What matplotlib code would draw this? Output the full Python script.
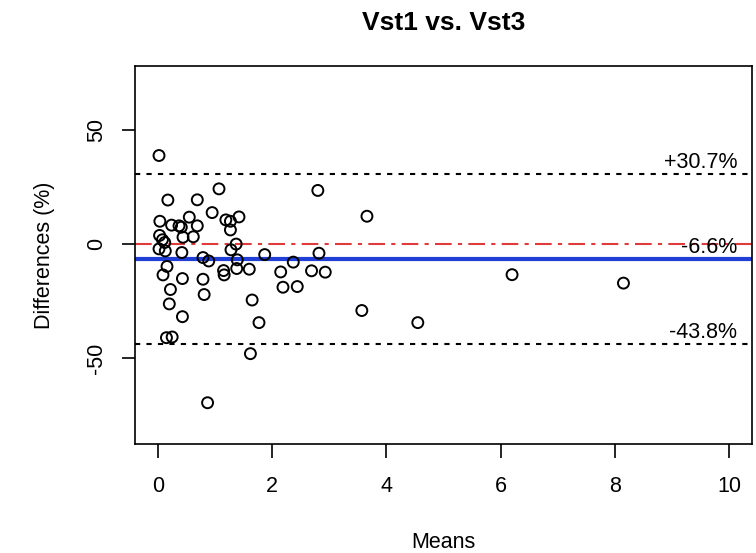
import matplotlib
matplotlib.use("Agg")
import matplotlib.pyplot as plt

plt.rcParams['font.family'] = ['Liberation Sans', 'DejaVu Sans']

# means (x) and percent differences (y)
means = [0.02, 1.07, 2.80, 0.175, 0.69, 0.95, 3.66, 0.035, 0.24, 0.37,
         0.41, 0.55, 0.69, 1.19, 1.27, 1.42, 1.27, 0.03, 0.44, 0.62,
         0.08, 0.12, 1.37, 0.02, 0.13, 1.28, 0.42, 1.87, 2.82, 0.79,
         0.89, 1.39, 2.37, 0.16, 1.38, 1.60, 1.15, 1.16, 2.15, 2.69,
         2.93, 0.09, 0.43, 0.79, 6.20, 8.15, 0.22, 2.19, 2.44, 0.81,
         0.20, 1.65, 0.43, 1.77, 0.15, 0.25, 1.62, 0.87, 3.57, 4.55]
diffs = [38.7, 24.1, 23.4, 19.2, 19.3, 13.7, 12.1, 9.9, 8.2, 7.9,
         7.3, 11.7, 7.9, 10.5, 9.9, 11.8, 6.1, 3.7, 2.9, 3.1,
         1.8, 0.6, -0.1, -2.2, -3.1, -2.6, -3.8, -4.7, -4.1, -6.0,
         -7.5, -7.0, -8.0, -9.9, -10.8, -11.1, -11.7, -13.6, -12.3, -11.8,
         -12.4, -13.6, -15.2, -15.5, -13.5, -17.2, -20.0, -19.0, -18.7, -22.2,
         -26.3, -24.6, -31.9, -34.5, -41.1, -40.8, -48.1, -69.6, -29.2, -34.5]

mean_diff = -6.6
upper_loa = 30.7
lower_loa = -43.8
limit_labels = ['+30.7%', '-6.6%', '-43.8%']

fig = plt.figure(figsize=(7.56, 5.53), dpi=100)
ax = fig.add_axes([0.1786, 0.197, 0.8161, 0.684])

ax.axhline(0, color='#e03a3a', lw=1.5, linestyle=(0, (8, 3, 2, 3)))
ax.axhline(mean_diff, color='#1f3fd6', lw=3.0)
ax.axhline(upper_loa, color='black', lw=1.5, linestyle=(0, (2.5, 3)))
ax.axhline(lower_loa, color='black', lw=1.5, linestyle=(0, (2.5, 3)))

ax.scatter(means, diffs, s=62, facecolors='none', edgecolors='black',
           linewidths=1.4, zorder=3)

for yv, lab in zip([upper_loa, mean_diff, lower_loa], limit_labels):
    ax.text(10.14, yv + 0.3, lab, ha='right', va='bottom', fontsize=15.5)

ax.set_xlim(-0.4, 10.4)
ax.set_ylim(-87.7, 78)
ax.set_xticks([0, 2, 4, 6, 8, 10])
ax.set_yticks([-50, 0, 50])
ax.set_yticklabels(['-50', '0', '50'], rotation=90, va='center')
ax.tick_params(axis='x', length=10, width=1.2, pad=13, labelsize=15.5)
ax.tick_params(axis='y', length=9.4, width=1.2, pad=11, labelsize=15.5)
for sp in ax.spines.values():
    sp.set_linewidth(1.2)

ax.set_xlabel('Means', fontsize=15.5, labelpad=25)
ax.set_ylabel('Differences (%)', fontsize=15.5, labelpad=22)
ax.set_title('Vst1 vs. Vst3', fontsize=19, fontweight='bold', pad=26)

fig.savefig('out.png', dpi=100)
